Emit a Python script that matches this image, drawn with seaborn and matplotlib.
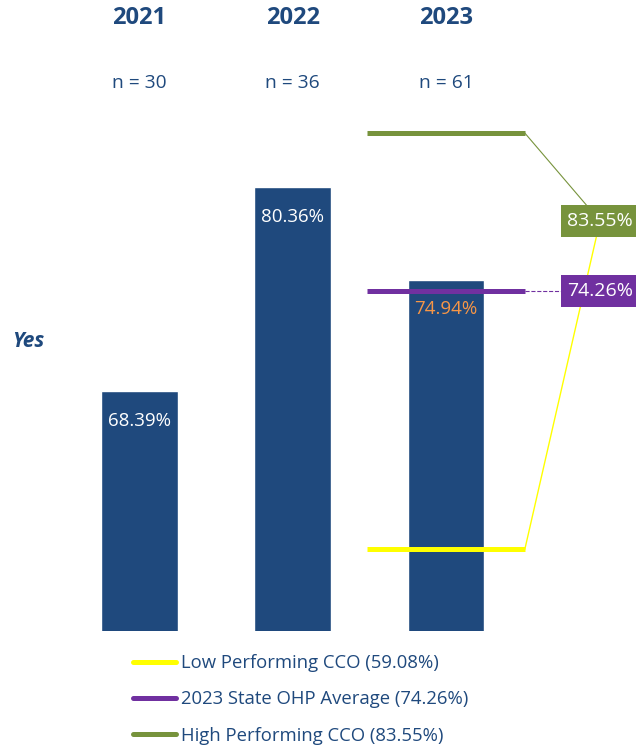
import matplotlib
matplotlib.use("Agg")
import matplotlib.pyplot as plt
from matplotlib.patches import Rectangle
from matplotlib.lines import Line2D
import seaborn as sns

sns.set_theme(style="white")
plt.rcParams['font.family'] = ['Open Sans', 'DejaVu Sans']

years = ['2021', '2022', '2023']
rates = [68.39, 80.36, 74.94]
n_counts = [30, 36, 61]

ref_names = ['Low Performing CCO', '2023 State OHP Average', 'High Performing CCO']
ref_values = [59.08, 74.26, 83.55]

NAVY = '#1F497D'
ref_colors = ['#FFFF00', '#7030A0', '#77933C']
ref_styles = ['-', '--', '-']
label_colors = ['white', 'white', '#F79646']
# where the value boxes on the right sit (yellow one hides under the green one)
box_y = [78.38, 74.26, 78.38]


def plot():
    fig = plt.figure(figsize=(6.36, 7.45), dpi=100)
    ax = fig.add_axes([0, 114 / 745, 1, 631 / 745])

    sns.barplot(x=years, y=rates, color=NAVY, saturation=1, width=0.5, ax=ax)
    ax.set_xlim(-0.9106, 3.241)
    ax.set_ylim(54.29, 54.29 + 631 / 17.02)
    ax.axis('off')

    for i, v in enumerate(rates):
        ax.text(i, v - 1.76, f"{v:.2f}%", ha='center', va='center',
                fontsize=13.5, color=label_colors[i], zorder=6)

    trans = ax.get_xaxis_transform()
    for i, (yr, n) in enumerate(zip(years, n_counts)):
        ax.text(i, 1 - 18 / 631, yr, transform=trans, ha='center', va='center',
                fontsize=17, fontweight='bold', color=NAVY)
        ax.text(i, 1 - 83 / 631, f"n = {n}", transform=trans, ha='center',
                va='center', fontsize=13.8, color=NAVY)

    fig.text(12 / 636, 1 - 342 / 745, 'Yes', ha='left', va='center',
             fontsize=15, fontweight='bold', fontstyle='italic', color=NAVY)

    last = len(years) - 1
    x0, x1 = last - 0.515, last + 0.515
    bx, bw = 2.75, 0.6
    bh = 32 / 17.02
    handles = []
    for k, (name, val) in enumerate(zip(ref_names, ref_values)):
        ax.plot([x0, x1], [val, val], color=ref_colors[k], lw=3.6,
                solid_capstyle='butt', zorder=5)
        handles.append(Line2D([], [], color=ref_colors[k], lw=3.6))
        lw = 1.0 if k == 0 else 0.8
        ax.plot([x1, 3.006], [val, box_y[k]], color=ref_colors[k], lw=lw,
                ls=ref_styles[k], zorder=2 + k * 0.01, clip_on=False)
        ax.add_patch(Rectangle((bx, box_y[k] - bh / 2), bw, bh,
                               facecolor=ref_colors[k], edgecolor='none',
                               zorder=3 + k * 0.1, clip_on=False))
        ax.text(3.006, box_y[k], f"{val:.2f}%", ha='center', va='center',
                fontsize=14, color='white', zorder=3.05 + k * 0.1)

    labels = [f"{n} ({v:.2f}%)" for n, v in zip(ref_names, ref_values)]
    leg = fig.legend(handles, labels, loc='upper left',
                     bbox_to_anchor=(133 / 636, 1 - 654 / 745), frameon=False,
                     fontsize=13.3, handlelength=2.35, handletextpad=0.25,
                     labelspacing=1.0, borderpad=0, borderaxespad=0)
    for t in leg.get_texts():
        t.set_color(NAVY)

    fig.savefig('out.png', dpi=100)


if __name__ == "__main__":
    plot()
